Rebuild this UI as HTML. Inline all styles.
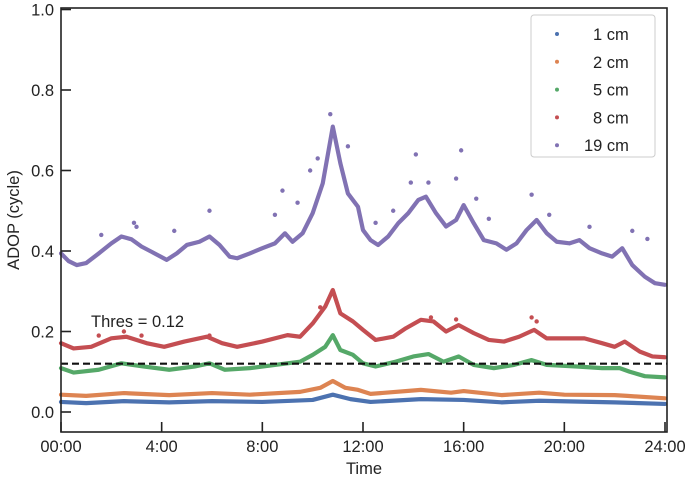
<!DOCTYPE html>
<html><head><meta charset="utf-8"><style>
body{margin:0;background:#fff;}
svg text{font-family:"Liberation Sans",Arial,sans-serif;fill:#222;}
</style></head><body>
<svg id="chart" width="685" height="480" viewBox="0 0 685 480" xmlns="http://www.w3.org/2000/svg">
<g id="plot"></g>
<g id="axes"></g>
</svg>
<script>
const xTicks = ["00:00","4:00","8:00","12:00","16:00","20:00","24:00"];
const yTicks = [0.0,0.2,0.4,0.6,0.8,1.0];
const threshold = 0.12;
const t19 = [0,0.3,0.63,1.0,1.5,2.0,2.4,2.8,3.2,3.6,4.2,4.6,5.0,5.5,5.9,6.3,6.7,7.0,7.5,8.0,8.5,8.9,9.2,9.6,10.0,10.4,10.8,11.1,11.4,11.8,12.0,12.3,12.6,13.0,13.4,13.8,14.2,14.5,14.9,15.3,15.7,16.0,16.4,16.8,17.3,17.7,18.1,18.5,18.9,19.3,19.7,20.2,20.6,21.0,21.5,21.9,22.3,22.7,23.2,23.6,24];
const v19 = [0.394,0.375,0.365,0.37,0.394,0.419,0.436,0.429,0.411,0.398,0.378,0.394,0.415,0.423,0.436,0.415,0.386,0.382,0.394,0.407,0.419,0.444,0.423,0.444,0.494,0.568,0.709,0.618,0.543,0.51,0.452,0.427,0.415,0.436,0.469,0.494,0.527,0.535,0.494,0.461,0.477,0.514,0.469,0.427,0.419,0.403,0.419,0.452,0.477,0.444,0.423,0.419,0.427,0.407,0.394,0.386,0.407,0.365,0.336,0.32,0.316];
const o19t = [2.9,1.6,5.9,4.5,8.8,8.5,9.9,10.2,10.7,11.4,14.1,13.9,15.9,15.7,16.5,17.0,18.7,19.4,21.0,22.7,23.3,12.5,13.2,14.6,3.0,9.4];
const o19v = [0.47,0.44,0.50,0.45,0.55,0.49,0.60,0.63,0.74,0.66,0.64,0.57,0.65,0.58,0.53,0.48,0.54,0.49,0.46,0.45,0.43,0.47,0.50,0.57,0.46,0.52];
const t8 = [0,0.5,1.2,2.0,2.6,3.4,4.1,4.9,5.8,6.4,7.0,8.0,9.0,9.5,10.0,10.5,10.8,11.1,11.6,12.0,12.5,13.2,13.7,14.3,14.8,15.3,15.8,16.4,17.0,17.6,18.2,18.8,19.3,20.0,20.8,21.5,22.0,22.4,23.0,23.5,24];
const v8 = [0.171,0.158,0.162,0.183,0.187,0.171,0.162,0.175,0.187,0.171,0.162,0.175,0.191,0.187,0.22,0.262,0.303,0.245,0.225,0.204,0.179,0.187,0.208,0.229,0.225,0.2,0.216,0.196,0.179,0.175,0.187,0.204,0.183,0.183,0.183,0.171,0.162,0.175,0.15,0.138,0.136];
const o8t = [10.3,14.7,15.7,18.7,5.9,2.5,1.5,3.2,18.9];
const o8v = [0.26,0.235,0.23,0.235,0.19,0.2,0.19,0.19,0.225];
const t5 = [0,0.5,1.5,2.4,3.3,4.3,5.3,5.9,6.5,7.5,8.5,9.5,10.0,10.5,10.8,11.1,11.6,12.0,12.5,13.3,14.0,14.6,15.2,15.8,16.4,17.2,18.0,18.7,19.3,20.5,21.5,22.2,22.6,23.2,24];
const v5 = [0.109,0.098,0.105,0.121,0.113,0.105,0.113,0.121,0.105,0.109,0.117,0.125,0.142,0.162,0.191,0.154,0.142,0.121,0.113,0.125,0.138,0.144,0.125,0.138,0.117,0.109,0.117,0.129,0.117,0.113,0.109,0.109,0.1,0.089,0.086];
const t2 = [0,1,2.5,4.3,6,7.5,9.5,10.3,10.8,11.3,11.8,12.3,14.3,15.5,16,17.5,19,20,22,22.5,24];
const v2 = [0.043,0.040,0.047,0.042,0.047,0.043,0.050,0.060,0.077,0.060,0.055,0.045,0.055,0.048,0.052,0.042,0.048,0.043,0.042,0.040,0.034];
const t1 = [0,1,2.5,4.3,6,8,10,10.8,11.5,12.3,14.3,16,17.5,19,22,24];
const v1 = [0.025,0.022,0.027,0.024,0.027,0.025,0.030,0.043,0.032,0.025,0.032,0.030,0.024,0.028,0.024,0.020];
const seriesNames = ["1 cm","2 cm","5 cm","8 cm","19 cm"];
const colors = ["#4c72b0","#dd8452","#55a868","#c44e52","#8172b3"];

const NS="http://www.w3.org/2000/svg";
const X0=61,X1=665,Y0=412,PER=402.5,TOP=8,BOT=432,RIGHT=667;
const xs=t=>X0+(X1-X0)*t/24;
const ys=v=>Y0-v*PER;
function mk(tag,attrs,parent){const e=document.createElementNS(NS,tag);for(const k in attrs)e.setAttribute(k,attrs[k]);parent.appendChild(e);return e;}
const plot=document.getElementById('plot'), axes=document.getElementById('axes');

const lines=[[t1,v1],[t2,v2],[t5,v5],[t8,v8],[t19,v19]];
lines.forEach((d,i)=>{
  const p=mk('polyline',{points:d[0].map((t,j)=>xs(t)+','+ys(d[1][j])).join(' '),fill:'none',stroke:colors[i],'stroke-width':4.2,'stroke-linejoin':'round','stroke-linecap':'round'},plot);
  
  
});
[[o19t,o19v,4],[o8t,o8v,3]].forEach(o=>{
  o[0].forEach((t,j)=>{
    const c=mk('circle',{cx:xs(t),cy:ys(o[1][j]),r:2.2,fill:colors[o[2]]},plot);
    
    
  });
});
const th=mk('line',{x1:X0,x2:RIGHT,y1:ys(threshold),y2:ys(threshold),stroke:'#111','stroke-width':2.2,'stroke-dasharray':'7 4'},plot);


const tt=mk('text',{x:91,y:327,'font-size':16.5},plot);tt.textContent='Thres = '+threshold;



const fr=mk('rect',{x:X0,y:TOP,width:RIGHT-X0,height:BOT-TOP,fill:'none',stroke:'#222','stroke-width':1.6},axes);


yTicks.forEach(v=>{
  mk('line',{x1:X0,x2:X0+10,y1:ys(v),y2:ys(v),stroke:'#222','stroke-width':1.6},axes);
  const t=mk('text',{x:X0-7,y:ys(v)+6,'font-size':16.5,'text-anchor':'end'},axes);t.textContent=v.toFixed(1);
  
  
});
xTicks.forEach((l,i)=>{
  const x=xs(i*4);
  mk('line',{x1:x,x2:x,y1:BOT,y2:BOT-10,stroke:'#222','stroke-width':1.6},axes);
  const t=mk('text',{x:x,y:452,'font-size':16.5,'text-anchor':'middle'},axes);t.textContent=l;
  
  
});
const xl=mk('text',{x:364,y:474,'font-size':16.5,'text-anchor':'middle'},axes);xl.textContent='Time';


const yl=mk('text',{x:0,y:0,'font-size':16.5,'text-anchor':'middle',transform:'translate(19,220) rotate(-90)'},axes);yl.textContent='ADOP (cycle)';



const lg=mk('g',{},axes);


mk('rect',{x:531,y:15,width:124,height:142,rx:3,fill:'#fff',stroke:'#ccc','stroke-width':1},lg);
seriesNames.forEach((n,i)=>{
  const y=34+i*27.8;
  const e=mk('g',{},lg);
  
  
  mk('circle',{cx:557,cy:y,r:2,fill:colors[i]},e);
  const t=mk('text',{x:i==4?584:593,y:y+6,'font-size':16.5},e);t.textContent=n;
});
</script>
</body></html>
